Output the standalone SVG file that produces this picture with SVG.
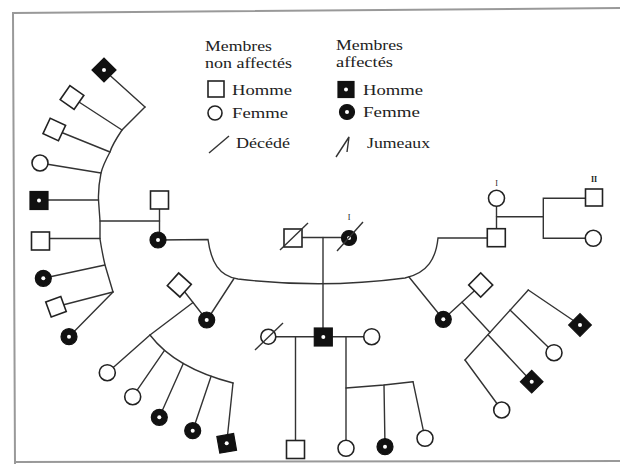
<svg xmlns="http://www.w3.org/2000/svg" width="620" height="464" viewBox="0 0 620 464">
<style>
.ln{fill:none;stroke:#333;stroke-width:1.4;stroke-linecap:round}
.op{fill:#fff;stroke:#222;stroke-width:1.6}
.fl{fill:#111;stroke:#111;stroke-width:1.2}
.dot{fill:#fff}
.sl{stroke:#333;stroke-width:1.4;fill:none}
.tx{font-family:"Liberation Serif","Times New Roman",serif;font-size:15px;fill:#222}
.lb{font-family:"Liberation Serif","Times New Roman",serif;font-size:8px;fill:#222;text-anchor:middle}
.frame{fill:none;stroke:#999;stroke-width:2}
</style>
<rect x="0" y="0" width="620" height="464" fill="#fff"/>
<path class="frame" d="M620,8 L13,13 L15,464 M15,462 L620,461"/>

<g id="legend">
  <text class="tx" x="205" y="51" textLength="67" lengthAdjust="spacingAndGlyphs">Membres</text>
  <text class="tx" x="205" y="68" textLength="87" lengthAdjust="spacingAndGlyphs">non affectés</text>
  <rect class="op" x="208" y="81" width="16" height="16"/>
  <text class="tx" x="232" y="95" textLength="60" lengthAdjust="spacingAndGlyphs">Homme</text>
  <circle class="op" cx="215" cy="113" r="7"/>
  <text class="tx" x="232" y="118" textLength="56" lengthAdjust="spacingAndGlyphs">Femme</text>
  <line class="sl" x1="209" y1="153" x2="229" y2="136"/>
  <text class="tx" x="236" y="148" textLength="54" lengthAdjust="spacingAndGlyphs">Décédé</text>
  <text class="tx" x="336" y="50" textLength="67" lengthAdjust="spacingAndGlyphs">Membres</text>
  <text class="tx" x="336" y="67" textLength="57" lengthAdjust="spacingAndGlyphs">affectés</text>
  <rect class="fl" x="338" y="81.5" width="16" height="16"/>
  <circle class="dot" cx="346" cy="89.5" r="2"/>
  <text class="tx" x="363" y="95" textLength="60" lengthAdjust="spacingAndGlyphs">Homme</text>
  <circle class="fl" cx="347" cy="112" r="7.5"/>
  <circle class="dot" cx="347" cy="112" r="2"/>
  <text class="tx" x="363" y="117" textLength="57" lengthAdjust="spacingAndGlyphs">Femme</text>
  <polyline class="sl" points="336,157 349,137 347,152"/>
  <text class="tx" x="367" y="148" textLength="63" lengthAdjust="spacingAndGlyphs">Jumeaux</text>
</g>

<g id="connectors">
  <line class="ln" x1="302" y1="237.5" x2="341" y2="237.5"/>
  <line class="ln" x1="323" y1="237.5" x2="323" y2="328"/>
  <path class="ln" d="M158,240 L208,239.5 C211,262 219,276 238,279 Q323,289 405,278 C428,273 436,258 438,238 L496,238"/>
  <line class="ln" x1="234" y1="278.5" x2="207" y2="320"/>
  <line class="ln" x1="409" y1="277" x2="443" y2="319"/>
  <line class="ln" x1="159.5" y1="200" x2="159.5" y2="240"/>
  <line class="ln" x1="159.5" y1="221" x2="100" y2="221"/>
  <path class="ln" d="M145,107 L122,130 Q112,145 110,152 Q103,165 101,173 Q98,188 98.5,200 L100,221 L100,239 Q102,252 105,265 L113,292"/>
  <line class="ln" x1="104" y1="70" x2="145" y2="107"/>
  <line class="ln" x1="72" y1="97.5" x2="122" y2="130"/>
  <line class="ln" x1="54.3" y1="129.5" x2="110" y2="152"/>
  <line class="ln" x1="40" y1="163" x2="101" y2="173"/>
  <line class="ln" x1="39" y1="200" x2="98.5" y2="200"/>
  <line class="ln" x1="40.5" y1="238.5" x2="100" y2="238.5"/>
  <line class="ln" x1="43.3" y1="278.3" x2="105" y2="265"/>
  <line class="ln" x1="56" y1="306.7" x2="113" y2="292"/>
  <line class="ln" x1="69" y1="336.7" x2="113" y2="292"/>
  <line class="ln" x1="179.3" y1="285" x2="206.7" y2="320"/>
  <line class="ln" x1="193" y1="302.5" x2="150" y2="335"/>
  <path class="ln" d="M150,335 Q175,368 233,383"/>
  <line class="ln" x1="150" y1="335" x2="107.3" y2="372.7"/>
  <line class="ln" x1="164.5" y1="350.4" x2="132.7" y2="396.7"/>
  <line class="ln" x1="183.3" y1="363.5" x2="159.3" y2="417.3"/>
  <line class="ln" x1="211.1" y1="376.3" x2="192.7" y2="430.7"/>
  <line class="ln" x1="233" y1="383" x2="226.7" y2="443.3"/>
  <line class="ln" x1="268.3" y1="336.7" x2="371.7" y2="336.7"/>
  <line class="ln" x1="295.5" y1="336.7" x2="295.5" y2="449"/>
  <line class="ln" x1="346" y1="336.7" x2="346" y2="448"/>
  <polyline class="ln" points="346,388 384,385 413,381.7"/>
  <line class="ln" x1="384" y1="385" x2="385" y2="446.7"/>
  <line class="ln" x1="413" y1="381.7" x2="425" y2="438.3"/>
  <line class="ln" x1="496.5" y1="198.3" x2="496.5" y2="238"/>
  <line class="ln" x1="496.5" y1="216.7" x2="543.3" y2="216.7"/>
  <polyline class="ln" points="593,198.3 543.3,198.3 543.3,238.3 593,238.3"/>
  <line class="ln" x1="443.3" y1="319.3" x2="480.7" y2="285"/>
  <line class="ln" x1="462" y1="302.2" x2="490" y2="332.5"/>
  <line class="ln" x1="528.3" y1="290" x2="465" y2="360"/>
  <line class="ln" x1="528.3" y1="290" x2="580" y2="325"/>
  <line class="ln" x1="510" y1="310" x2="554" y2="352.7"/>
  <line class="ln" x1="488.3" y1="335" x2="531.7" y2="381.7"/>
  <line class="ln" x1="465" y1="360" x2="501.7" y2="410"/>
</g>

<g id="n-grandfather">
  <rect class="op" x="284" y="229" width="18" height="18"/>
  <line class="sl" x1="280" y1="250" x2="308" y2="223"/>
</g>
<g id="n-grandmother">
  <circle class="fl" cx="349" cy="238" r="7.5"/>
  <circle class="dot" cx="349" cy="238" r="2"/>
  <line class="sl" x1="337" y1="251" x2="363" y2="222"/>
  <text class="lb" x="349" y="220" font-size="11">I</text>
</g>

<g id="n-c1"><circle class="fl" cx="158" cy="240" r="8"/><circle class="dot" cx="158" cy="240" r="2"/></g>
<g id="n-c1-spouse"><rect class="op" x="150.5" y="191" width="18" height="18"/></g>
<g id="n-l1"><rect class="fl" x="-8.5" y="-8.5" width="17" height="17" transform="translate(104,70) rotate(45)"/><circle class="dot" cx="104" cy="70" r="2"/></g>
<g id="n-l2"><rect class="op" x="-8.5" y="-8.5" width="17" height="17" transform="translate(72,97.5) rotate(35)"/></g>
<g id="n-l3"><rect class="op" x="-8.5" y="-8.5" width="17" height="17" transform="translate(54.3,129.5) rotate(25)"/></g>
<g id="n-l4"><circle class="op" cx="40" cy="163" r="8"/></g>
<g id="n-l5"><rect class="fl" x="30" y="191.5" width="18" height="18"/><circle class="dot" cx="39" cy="200.5" r="2"/></g>
<g id="n-l6"><rect class="op" x="31.5" y="232" width="18" height="18"/></g>
<g id="n-l7"><circle class="fl" cx="43.3" cy="278.3" r="8"/><circle class="dot" cx="43.3" cy="278.3" r="2"/></g>
<g id="n-l8"><rect class="op" x="-8" y="-8" width="16" height="16" transform="translate(56,306.7) rotate(-20)"/></g>
<g id="n-l9"><circle class="fl" cx="69" cy="336.7" r="8"/><circle class="dot" cx="69" cy="336.7" r="2"/></g>

<g id="n-c2"><circle class="fl" cx="206.7" cy="320" r="8"/><circle class="dot" cx="206.7" cy="320" r="2"/></g>
<g id="n-c2-spouse"><rect class="op" x="-8.5" y="-8.5" width="17" height="17" transform="translate(179.3,285) rotate(42)"/></g>
<g id="n-m1"><circle class="op" cx="107.3" cy="372.7" r="8"/></g>
<g id="n-m2"><circle class="op" cx="132.7" cy="396.7" r="8"/></g>
<g id="n-m3"><circle class="fl" cx="159.3" cy="417.3" r="8"/><circle class="dot" cx="159.3" cy="417.3" r="2"/></g>
<g id="n-m4"><circle class="fl" cx="192.7" cy="430.7" r="8"/><circle class="dot" cx="192.7" cy="430.7" r="2"/></g>
<g id="n-m5"><rect class="fl" x="-8.5" y="-8.5" width="17" height="17" transform="translate(226.7,443.3) rotate(-10)"/><circle class="dot" cx="226.7" cy="443.3" r="2"/></g>

<g id="n-c3"><rect class="fl" x="314.3" y="328" width="18" height="18"/><circle class="dot" cx="323.3" cy="337" r="2"/></g>
<g id="n-c3-wife1"><circle class="op" cx="268.3" cy="336.7" r="7.5"/><line class="sl" x1="255" y1="350" x2="283" y2="323"/></g>
<g id="n-c3-wife2"><circle class="op" cx="371.7" cy="336.7" r="8"/></g>
<g id="n-b1"><rect class="op" x="286.5" y="440.5" width="18" height="18"/></g>
<g id="n-b2"><circle class="op" cx="346" cy="448.3" r="8"/></g>
<g id="n-b3"><circle class="fl" cx="385" cy="446.7" r="8"/><circle class="dot" cx="385" cy="446.7" r="2"/></g>
<g id="n-b4"><circle class="op" cx="425" cy="438.3" r="8"/></g>

<g id="n-c4"><rect class="op" x="487.3" y="228.7" width="18" height="18"/></g>
<g id="n-c4-wife"><circle class="op" cx="496.5" cy="198.3" r="8"/><text class="lb" x="496.5" y="186">I</text></g>
<g id="n-r1"><rect class="op" x="585.5" y="189" width="17" height="17"/><text class="lb" x="594" y="182" font-weight="bold">II</text></g>
<g id="n-r2"><circle class="op" cx="593.3" cy="238.3" r="8"/></g>

<g id="n-c5"><circle class="fl" cx="443.3" cy="319.3" r="8"/><circle class="dot" cx="443.3" cy="319.3" r="2"/></g>
<g id="n-c5-spouse"><rect class="op" x="-8.5" y="-8.5" width="17" height="17" transform="translate(480.7,285) rotate(45)"/></g>
<g id="n-s1"><rect class="fl" x="-8" y="-8" width="16" height="16" transform="translate(580,325) rotate(45)"/><circle class="dot" cx="580" cy="325" r="2"/></g>
<g id="n-s2"><circle class="op" cx="554" cy="352.7" r="8"/></g>
<g id="n-s3"><rect class="fl" x="-8" y="-8" width="16" height="16" transform="translate(531.7,381.7) rotate(45)"/><circle class="dot" cx="531.7" cy="381.7" r="2"/></g>
<g id="n-s4"><circle class="op" cx="501.7" cy="410" r="8"/></g>
</svg>
